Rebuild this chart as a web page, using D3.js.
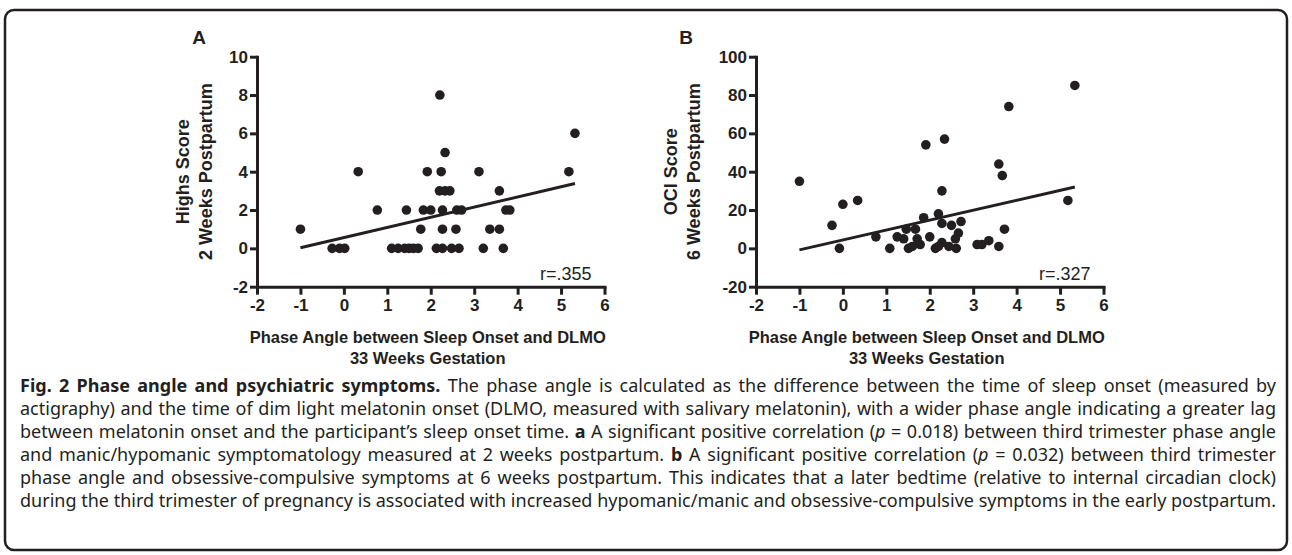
<!DOCTYPE html>
<html><head><meta charset="utf-8">
<script src="https://cdn.jsdelivr.net/npm/d3@7"></script>
<style>body{margin:0;background:#fff}svg{display:block}</style>
</head><body>
<svg id="c" width="1292" height="555"></svg>
<script>
// ---- data ----
const xTicks = [-2, -1, 0, 1, 2, 3, 4, 5, 6];
const yTicksA = [-2, 0, 2, 4, 6, 8, 10];
const yTicksB = [-20, 0, 20, 40, 60, 80, 100];
const phaseA = [-1, 0.33, -0.27, -0.1, 0.02, 0.77, 1.44, 1.1, 1.25, 1.4, 1.5, 1.6, 1.71, 2.21, 5.32, 2.33, 1.92, 2.24, 3.11, 5.18, 2.2, 2.33, 2.44, 3.58, 1.83, 2.0, 2.27, 2.6, 2.71, 3.73, 3.82, 1.77, 2.27, 2.58, 3.36, 3.58, 2.13, 2.27, 2.48, 2.65, 3.21, 3.67];
const highsScore = [1, 4, 0, 0, 0, 2, 2, 0, 0, 0, 0, 0, 0, 8, 6, 5, 4, 4, 4, 4, 3, 3, 3, 3, 2, 2, 2, 2, 2, 2, 2, 1, 1, 1, 1, 1, 0, 0, 0, 0, 0, 0];
const phaseB = [-1, 0, 0.34, -0.25, -0.08, 0.76, 1.08, 5.34, 3.82, 2.34, 1.91, 3.59, 3.67, 2.28, 5.18, 2.2, 1.86, 2.28, 2.72, 2.5, 3.72, 1.46, 1.67, 2.66, 1.25, 1.4, 1.71, 2.0, 2.59, 1.51, 1.6, 1.78, 2.13, 2.2, 2.28, 2.44, 2.61, 3.09, 3.2, 3.36, 3.59];
const ociScore = [35, 23, 25, 12, 0, 6, 0, 85, 74, 57, 54, 44, 38, 30, 25, 18, 16, 13, 14, 12, 10, 10, 10, 8, 6, 5, 5, 6, 5, 0, 1, 2, 0, 1, 3, 1, 0, 2, 2, 4, 1];
const fitA = [[-1, 0.03], [5.32, 3.38]];
const fitB = [[-1, -0.8], [5.34, 32]];
const rA = "r=.355", rB = "r=.327";
const xTitle = ["Phase Angle between Sleep Onset and DLMO", "33 Weeks Gestation"];
const yTitleA = ["Highs Score", "2 Weeks Postpartum"];
const yTitleB = ["OCI Score", "6 Weeks Postpartum"];

const captionLines = [
  [["Fig. 2 Phase angle and psychiatric symptoms.", "b"], [" The phase angle is calculated as the difference between the time of sleep onset (measured by", "n"]],
  [["actigraphy) and the time of dim light melatonin onset (DLMO, measured with salivary melatonin), with a wider phase angle indicating a greater lag", "n"]],
  [["between melatonin onset and the participant\u2019s sleep onset time. ", "n"], ["a", "b"], [" A significant positive correlation (", "n"], ["p", "i"], [" = 0.018) between third trimester phase angle", "n"]],
  [["and manic/hypomanic symptomatology measured at 2 weeks postpartum. ", "n"], ["b", "b"], [" A significant positive correlation (", "n"], ["p", "i"], [" = 0.032) between third trimester", "n"]],
  [["phase angle and obsessive-compulsive symptoms at 6 weeks postpartum. This indicates that a later bedtime (relative to internal circadian clock)", "n"]],
  [["during the third trimester of pregnancy is associated with increased hypomanic/manic and obsessive-compulsive symptoms in the early postpartum.", "n"]]
];

// ---- drawing ----
const svg = d3.select("#c");
const ink = "#231f20";
const chartFont = "'Liberation Sans', Arial, Helvetica, sans-serif";

svg.append("rect").attr("x", 5).attr("y", 10).attr("width", 1282).attr("height", 540)
  .attr("rx", 9).attr("fill", "none").attr("stroke", ink).attr("stroke-width", 2.5);

function panel(o) {
  const x = d3.scaleLinear().domain([-2, 6]).range([o.x0, o.x0 + 347.5]);
  const y = d3.scaleLinear().domain(o.yDomain).range([286.7, 56.7]);
  const g = svg.append("g");
  const fmt = d => String(d);

  const ya = g.append("g").attr("transform", `translate(${o.x0},0)`)
    .call(d3.axisLeft(y).tickValues(o.yTicks).tickFormat(fmt).tickSize(7).tickSizeOuter(0).tickPadding(2));
  const xa = g.append("g").attr("transform", `translate(0,286.7)`)
    .call(d3.axisBottom(x).tickValues(xTicks).tickFormat(fmt).tickSize(8).tickSizeOuter(0).tickPadding(4));
  [ya, xa].forEach(a => {
    a.select(".domain").attr("stroke", ink).attr("stroke-width", 3).attr("stroke-linecap", "square");
    a.selectAll(".tick line").attr("stroke", ink).attr("stroke-width", 3);
    a.selectAll(".tick text").attr("fill", ink).attr("font-family", chartFont)
      .attr("font-weight", "bold").attr("font-size", 17);
  });

  g.append("g").selectAll("circle").data(o.xs.map((d, i) => [d, o.ys[i]])).join("circle")
    .attr("cx", d => x(d[0])).attr("cy", d => y(d[1])).attr("r", 4.8).attr("fill", ink);

  g.append("path").datum(o.fit).attr("d", d3.line().x(d => x(d[0])).y(d => y(d[1])))
    .attr("stroke", ink).attr("stroke-width", 3).attr("fill", "none");

  g.append("text").attr("x", x(5.7)).attr("y", 279.5).attr("text-anchor", "end")
    .attr("font-family", chartFont).attr("font-size", 18).attr("fill", ink).text(o.r);

  g.append("text").attr("x", o.letterX).attr("y", 43.5).attr("text-anchor", "middle")
    .attr("font-family", chartFont).attr("font-weight", "bold").attr("font-size", 19)
    .attr("fill", ink).text(o.letter);

  const cy = (56.7 + 286.7) / 2;
  o.yTitle.forEach((t, i) => {
    g.append("text").attr("transform", `translate(${o.yTitleX + i * 23},${cy}) rotate(-90)`)
      .attr("text-anchor", "middle").attr("font-family", chartFont).attr("font-weight", "bold")
      .attr("font-size", 18).attr("fill", ink).text(t);
  });
  const cx = x(1.93);
  xTitle.forEach((t, i) => {
    g.append("text").attr("x", cx).attr("y", 343 + i * 21).attr("text-anchor", "middle")
      .attr("font-family", chartFont).attr("font-weight", "bold").attr("font-size", 16.5)
      .attr("fill", ink).text(t);
  });
}

panel({x0: 257, yDomain: [-2, 10], yTicks: yTicksA, xs: phaseA, ys: highsScore, fit: fitA,
  r: rA, letter: "A", letterX: 199, yTitle: yTitleA, yTitleX: 188.5});
panel({x0: 756, yDomain: [-20, 100], yTicks: yTicksB, xs: phaseB, ys: ociScore, fit: fitB,
  r: rB, letter: "B", letterX: 686, yTitle: yTitleB, yTitleX: 677});

// caption, justified (word spacing when short, glyph squeeze when long)
const capFont = "'Noto Sans', 'Open Sans', sans-serif";
const capW = 1256;
captionLines.forEach((segs, i) => {
  const t = svg.append("text").attr("x", 20).attr("y", 392 + i * 23)
    .attr("font-family", capFont).attr("font-size", 18).attr("fill", ink);
  segs.forEach(([s, k]) => {
    const ts = t.append("tspan").text(s);
    if (k === "b") ts.attr("font-weight", "bold");
    if (k === "i") ts.attr("font-style", "italic");
  });
  const w = t.node().getComputedTextLength();
  const spaces = segs.map(s => s[0]).join("").split(" ").length - 1;
  if (w < capW) t.attr("word-spacing", (capW - w) / spaces);
  else t.attr("textLength", capW).attr("lengthAdjust", "spacingAndGlyphs");
});
</script>
</body></html>
